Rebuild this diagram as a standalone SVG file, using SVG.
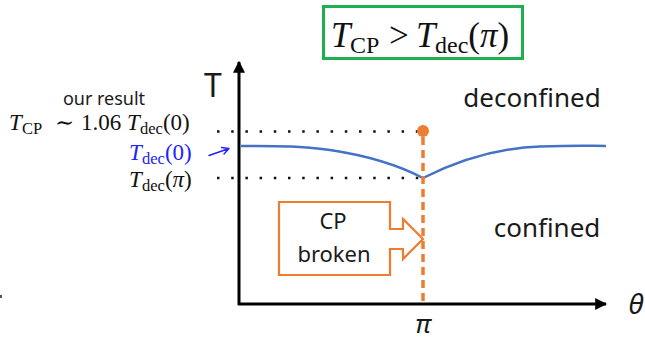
<svg xmlns="http://www.w3.org/2000/svg" width="645" height="342" viewBox="0 0 645 342">
<style>
.sans{font-family:"Noto Sans","Open Sans","Liberation Sans",sans-serif;fill:#1a1a1a}
.m{font-family:"Liberation Serif","DejaVu Serif",serif;fill:#111}
.it{font-style:italic}
.dots{stroke:#111;stroke-width:2.5;stroke-dasharray:2.5 11.7;fill:none}
.axis{stroke:#000;stroke-width:3;fill:none}
.orange{stroke:#ED7D31;fill:none}
.blue{fill:#2222ff}
</style>
<defs>
<marker id="ah" viewBox="0 0 10 10" refX="9" refY="5" markerWidth="4" markerHeight="4" orient="auto" markerUnits="strokeWidth">
<path d="M0,0 L10,5 L0,10 Z" fill="#000"/>
</marker>
</defs>
<rect x="0" y="295" width="2" height="3" fill="#555"/>
<g id="title">
<rect x="323.5" y="6.5" width="199" height="52" fill="#fff" stroke="#1FAF4F" stroke-width="3"/>
<text class="m" font-size="35" y="47"><tspan class="it" x="331">T</tspan><tspan x="350" y="53" font-size="24">CP</tspan><tspan x="389" y="47">&gt;</tspan><tspan class="it" x="416">T</tspan><tspan x="435" y="53" font-size="24">dec</tspan><tspan y="47">(</tspan><tspan class="it">π</tspan><tspan>)</tspan></text>
</g>
<g id="connectors">
<line class="dots" x1="217" y1="131.5" x2="420" y2="131.5"/>
<line class="dots" x1="217" y1="178" x2="420" y2="178"/>
<path d="M241,146 C285,146 300,146 330,150 C370,156 400,166 423,178 C455,162 495,148 540,146.5 S590,146 606,146" fill="none" stroke="#4472C4" stroke-width="2.5"/>
<line class="orange" x1="423" y1="137" x2="423" y2="304" stroke-width="3.5" stroke-dasharray="8 5"/>
<circle cx="423" cy="131" r="6" fill="#ED7D31"/>
<line class="axis" x1="239" y1="305" x2="239" y2="62" marker-end="url(#ah)"/>
<line class="axis" x1="238" y1="304" x2="606" y2="304" marker-end="url(#ah)"/>
</g>
<g id="axis-labels">
<text class="sans" x="213" y="97" font-size="32" text-anchor="middle">T</text>
<text class="sans it" x="636" y="314" font-size="28" text-anchor="middle">θ</text>
<text class="sans it" x="423" y="333" font-size="26" text-anchor="middle">π</text>
</g>
<g id="left-labels">
<text class="sans" x="104" y="105" font-size="18" text-anchor="middle">our result</text>
<text class="m" font-size="23" y="130"><tspan class="it" x="9">T</tspan><tspan x="22" y="134" font-size="16.5">CP</tspan><tspan x="55" y="130">∼</tspan><tspan x="81">1.06</tspan><tspan class="it" x="127">T</tspan><tspan x="140" y="134" font-size="16.5">dec</tspan><tspan y="130">(0)</tspan></text>
<text class="m blue" font-size="23" y="160"><tspan class="it" x="129">T</tspan><tspan x="142" y="164" font-size="16.5">dec</tspan><tspan y="160">(0)</tspan></text>
<path d="M209,155.5 L229,148.5 M221.5,147.5 L229,148.5 L224,154" fill="none" stroke="#2222ff" stroke-width="1.4" stroke-linecap="round" stroke-linejoin="round"/>
<text class="m" font-size="23" y="187"><tspan class="it" x="129">T</tspan><tspan x="142" y="191" font-size="16.5">dec</tspan><tspan y="187">(</tspan><tspan class="it">π</tspan><tspan>)</tspan></text>
</g>
<g id="deconfined">
<text class="sans" x="532" y="107" font-size="26" text-anchor="middle">deconfined</text>
</g>
<g id="confined">
<text class="sans" x="547" y="237" font-size="26" text-anchor="middle">confined</text>
</g>
<g id="cp-broken">
<path class="orange" stroke-width="2.2" stroke-linejoin="miter" d="M279,202 H390 V229 H403 V219 L423,239 L403,259 V249 H390 V275 H279 Z"/>
<text class="sans" x="333" y="229" font-size="22" text-anchor="middle">CP</text>
<text class="sans" x="334" y="262" font-size="22" text-anchor="middle">broken</text>
</g>
</svg>
